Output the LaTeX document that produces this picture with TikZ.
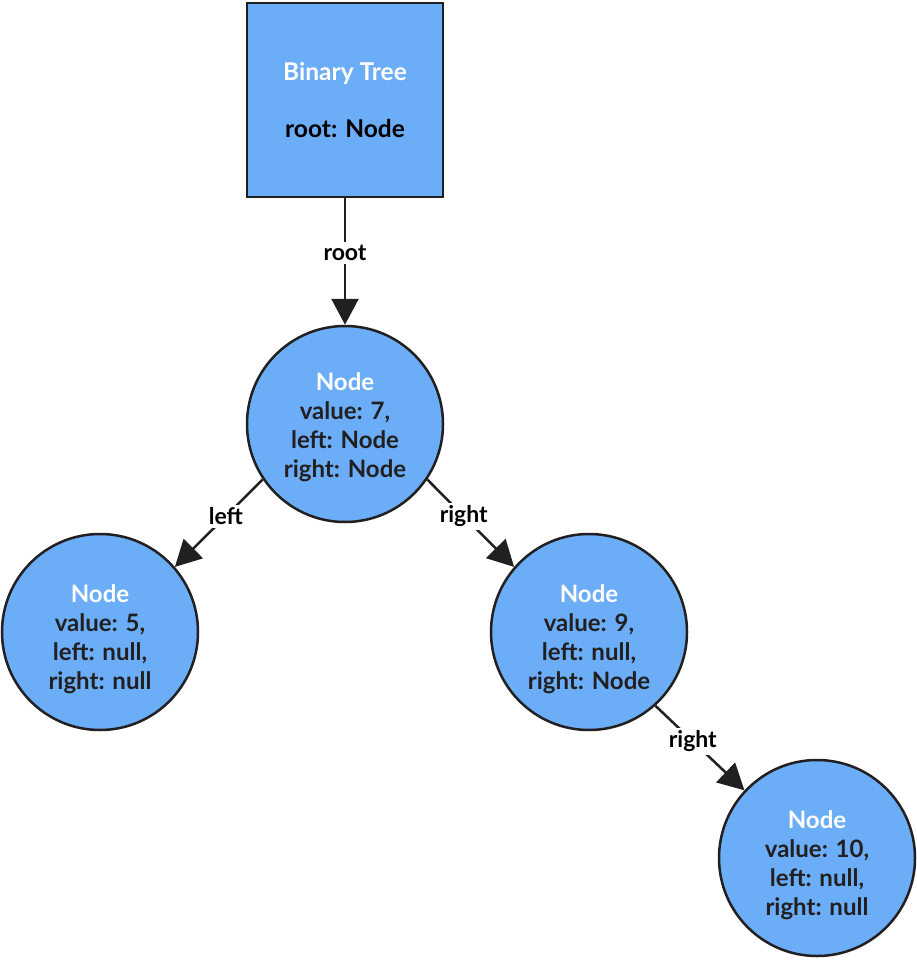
\documentclass[tikz,border=0pt]{standalone}
\usepackage{fontspec}
\setmainfont{Lato}
\usetikzlibrary{arrows.meta}
\definecolor{nodeblue}{RGB}{108,173,248}
\definecolor{ink}{RGB}{34,31,32}
\begin{document}
\begin{tikzpicture}[x=1pt,y=-1pt,
  treenode/.style={circle,draw=ink,line width=2.5pt,fill=nodeblue,minimum size=196pt,inner sep=0pt},
  nodetext/.style={align=center,inner sep=0pt,font=\bfseries\fontsize{24}{29}\selectfont,text=ink},
  rootbox/.style={rectangle,draw=ink,line width=2.8pt,fill=nodeblue,minimum width=196pt,minimum height=194pt,
    align=center,font=\bfseries\fontsize{24.5}{29}\selectfont,text=black},
  link/.style={draw=ink,line width=2.5pt,-{Triangle[length=26pt,width=27pt]}},
  linklabel/.style={fill=white,inner sep=3pt,font=\bfseries\fontsize{23}{24}\selectfont,text=black}]
\useasboundingbox (0,0) rectangle (917,960);

\node[rootbox] (tree) at (345,100) {\textcolor{white}{Binary Tree}\\[28pt]root: Node};

% circles of the tree
\node[treenode] (n7) at (345,424) {};
\node[treenode] (n5) at (100,632) {};
\node[treenode] (n9) at (589,632) {};
\node[treenode] (n10) at (817,858) {};

% contents of each circle
\node[nodetext] (t7) at ([yshift=-3pt]n7.center) {\textcolor{white}{Node}\\value: 7,\\left: Node\\right: Node};
\node[nodetext] (t5) at ([yshift=-7pt]n5.center) {\textcolor{white}{Node}\\value: 5,\\left: null,\\right: null};
\node[nodetext] (t9) at ([yshift=-7pt]n9.center) {\textcolor{white}{Node}\\value: 9,\\left: null,\\right: Node};
\node[nodetext] (t10) at ([yshift=-7pt]n10.center) {\textcolor{white}{Node}\\value: 10,\\left: null,\\right: null};

\draw[link] (tree.south) -- node[linklabel,pos=0.43] {root} (n7.north);
\draw[link] (n7.214) -- node[linklabel,pos=0.42] {left} (n5.41);
\draw[link] (n7.-34) -- node[linklabel,pos=0.42] {right} (n9.139);
\draw[link] (n9.-48) -- node[linklabel,pos=0.42] {right} (n10.137);
\end{tikzpicture}
\end{document}
